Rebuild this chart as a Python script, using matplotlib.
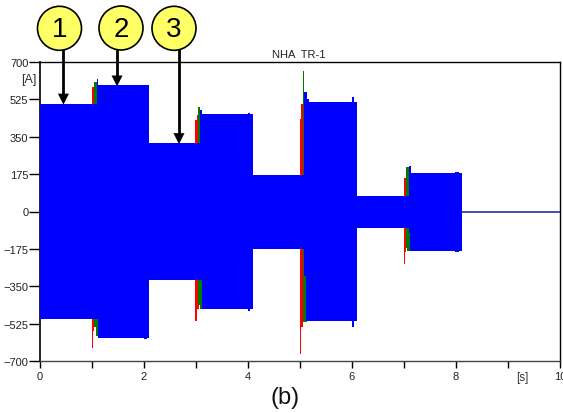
import matplotlib
matplotlib.use("Agg")
import matplotlib.pyplot as plt
from matplotlib.patches import Circle, Polygon

plt.rcParams['font.family'] = ['Liberation Sans', 'DejaVu Sans']

# Envelope of the current waveform: segment edges (upper and lower differ a little)
edges_up = [0.0, 1.10, 2.10, 3.08, 4.11, 5.08, 6.10, 7.09, 8.11]
edges_low = [0.0, 1.12, 2.10, 3.12, 4.11, 5.12, 6.10, 7.12, 8.11]
upper = [505, 590, 320, 456, 172, 511, 72, 180]
lower = [-505, -592, -322, -458, -175, -511, -75, -185]

# Transient blocks: start, end, top, bottom
red_blocks = [(1.00, 1.05, 581, -560), (1.00, 1.03, 560, -638),
              (2.99, 3.05, 430, -455), (3.02, 3.06, 450, -455), (2.99, 3.02, 400, -513),
              (5.00, 5.03, 433, -540), (5.00, 5.02, 420, -667), (5.03, 5.07, 503, -540),
              (7.00, 7.04, 156, -190), (7.00, 7.025, 150, -246)]
green_blocks = [(1.05, 1.10, 606, -540), (1.08, 1.13, 500, -585),
                (3.05, 3.08, 489, -440), (3.08, 3.13, 300, -458),
                (5.055, 5.085, 659, 300), (5.07, 5.13, 300, -517),
                (7.04, 7.09, 210, -170), (7.06, 7.13, 100, -185)]
blue_blocks = [(1.10, 1.13, 620, -500), (3.08, 3.12, 476, -300),
               (5.085, 5.13, 559, -300), (5.13, 5.17, 527, -300),
               (7.09, 7.13, 212, -100), (6.00, 6.05, 535, -539),
               (2.00, 2.06, 594, -598), (4.00, 4.05, 460, -465), (7.98, 8.06, 183, -188)]

t_tail = [8.11, 10.0]
i_tail = [0, 0]

x_ticks = [0, 1, 2, 3, 4, 5, 6, 7, 8, 9, 10]
x_labels = ['0', '', '2', '', '4', '', '6', '', '8', '', '10']
y_ticks = [-700, -525, -350, -175, 0, 175, 350, 525, 700]
marker_labels = ['1', '2', '3']
marker_times = [0.46, 1.49, 2.68]
marker_tips = [505, 590, 320]
marker_centers = [(59.5, 29.3), (121, 29), (174, 29.3)]

W, H = 563, 414
fig = plt.figure(figsize=(W / 100, H / 100), dpi=100)
L, R, T, B = 39.5, 560, 63, 362
ax = fig.add_axes([L / W, 1 - B / H, (R - L) / W, (B - T) / H])
ax.set_xlim(0, 10)
ax.set_ylim(-700, 700)

def blocks(items, color, z):
    for a, b, top, bot in items:
        ax.fill_between([a, b], [bot, bot], [top, top], color=color, lw=0, zorder=z)

blocks(red_blocks, '#ff0000', 2)
blocks(green_blocks, '#007a00', 3)
ax.stairs(upper, edges_up, baseline=0, fill=True, color='#0000ff', lw=0, zorder=4)
ax.stairs(lower, edges_low, baseline=0, fill=True, color='#0000ff', lw=0, zorder=4)
blocks(blue_blocks, '#0000ff', 4)
ax.plot(t_tail, i_tail, color='#2a2aa8', lw=1.2, zorder=4)

ax.set_xticks(x_ticks, x_labels)
ax.set_yticks(y_ticks)
ax.tick_params(axis='y', length=8, width=1, labelsize=8, pad=0, labelcolor='#222222')
ax.tick_params(axis='x', length=5, width=1, labelsize=8, pad=2, labelcolor='#222222')
for s in ax.spines.values():
    s.set_linewidth(1)
ax.spines['left'].set_linewidth(1.2)
ax.spines['bottom'].set_color('#444444')

# overlay in pixel coordinates for the annotations
ov = fig.add_axes([0, 0, 1, 1], facecolor='none')
ov.set_xlim(0, W)
ov.set_ylim(H, 0)
ov.axis('off')

ov.text(299, 54.5, 'NHA  TR-1', fontsize=8, ha='center', va='center', color='#222222')
ov.text(37, 80.5, '[A]', fontsize=9, ha='right', va='center', color='#333333')
ov.text(522, 378, '[s]', fontsize=8.5, ha='center', va='center', color='#333333')
ov.text(285, 398, '(b)', fontsize=17, ha='center', va='center', color='#111111')

y_px = lambda v: T + (700 - v) / 1400 * (B - T)
x_px = lambda t: L + t / 10 * (R - L)
for lab, t, tip, (cx, cy) in zip(marker_labels, marker_times, marker_tips, marker_centers):
    xp, yp = x_px(t), y_px(tip)
    ov.plot([xp, xp], [cy + 20, yp - 8], color='black', lw=2, solid_capstyle='butt', zorder=5)
    ov.add_patch(Polygon([(xp, yp + 1), (xp - 5.5, yp - 10), (xp + 5.5, yp - 10)], closed=True,
                         facecolor='black', edgecolor='none', zorder=5))
    ov.add_patch(Circle((cx, cy), 22, facecolor='#ffff66', edgecolor='black', lw=1.2, zorder=6))
    ov.text(cx, cy + 1, lab, fontsize=20, ha='center', va='center', color='black', zorder=7)

fig.savefig('out.png', dpi=100)
